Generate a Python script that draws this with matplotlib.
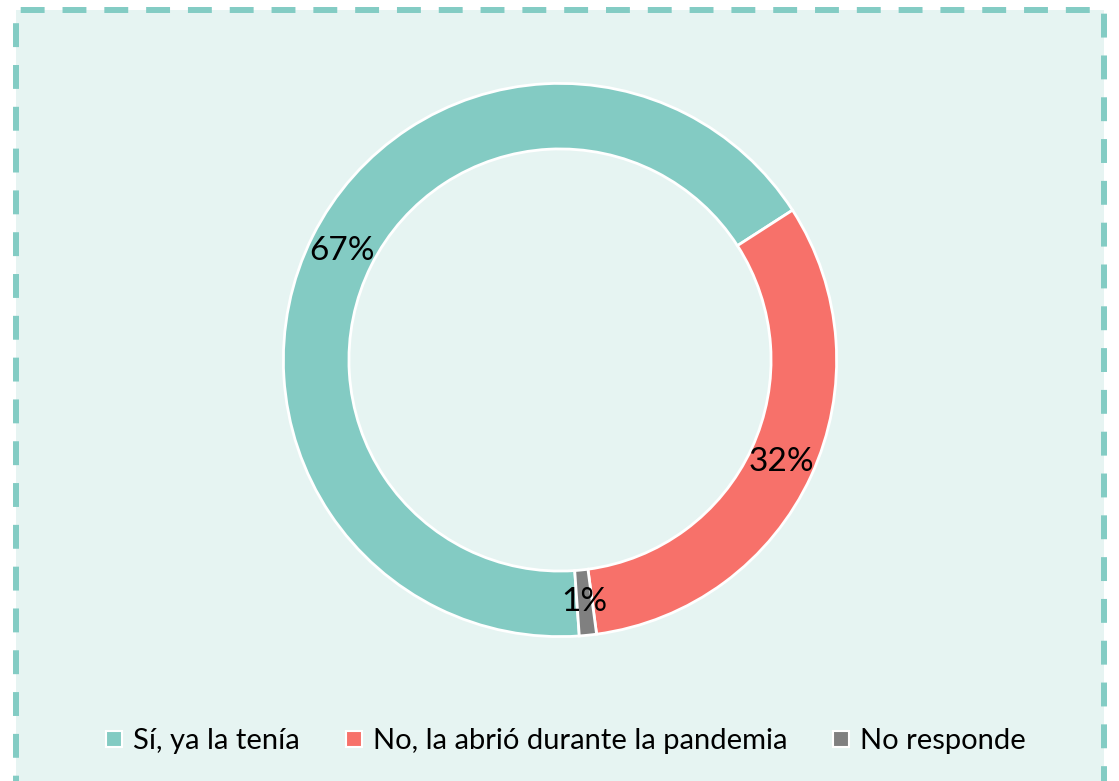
import matplotlib
matplotlib.use('Agg')
import matplotlib.pyplot as plt
from matplotlib.patches import Rectangle
from matplotlib.lines import Line2D

plt.rcParams['font.family'] = ['Lato', 'DejaVu Sans']

categories = ['Sí, ya la tenía', 'No, la abrió durante la pandemia', 'No responde']
values = [67, 32, 1]
colors = ['#83CBC3', '#F7716A', '#808080']

fig = plt.figure(figsize=(11.19, 7.81), dpi=100)
fig.patch.set_facecolor('white')

# dashed panel behind the chart
frame = Rectangle((15.5 / 1119, -0.01), (1103.5 - 15.5) / 1119, 1.01 - 10 / 781,
                  transform=fig.transFigure, facecolor='#E6F4F2', edgecolor='#83CCC4',
                  linewidth=4.3, linestyle=(0, (4, 3)), zorder=-1)
fig.patches.append(frame)

ax = fig.add_axes([282 / 1119, (781 - 638) / 781, 556 / 1119, 556 / 781])
ax.set_zorder(1)
ax.set_facecolor('none')
wedges, texts, autotexts = ax.pie(
    values, colors=colors, startangle=-86, counterclock=False,
    radius=1.0, pctdistance=0.88,
    autopct=lambda p: '%d%%' % round(p),
    wedgeprops=dict(width=0.237, edgecolor='white', linewidth=2),
    textprops=dict(fontsize=24, color='black'))
ax.set_xlim(-1.005, 1.005)
ax.set_ylim(-1.005, 1.005)
ax.set_aspect('equal')
ax.axis('off')

handles = [Line2D([0], [0], marker='s', linestyle='none', markersize=11,
                  markerfacecolor=c, markeredgecolor='white', markeredgewidth=1.5)
           for c in colors]
leg = fig.legend(handles, categories, loc='center', bbox_to_anchor=(565 / 1119, 40 / 781),
                 ncol=3, frameon=False, fontsize=21, handlelength=0.7, handletextpad=0.3,
                 columnspacing=1.5)
leg.set_zorder(2)

fig.savefig('out.png', dpi=100)
